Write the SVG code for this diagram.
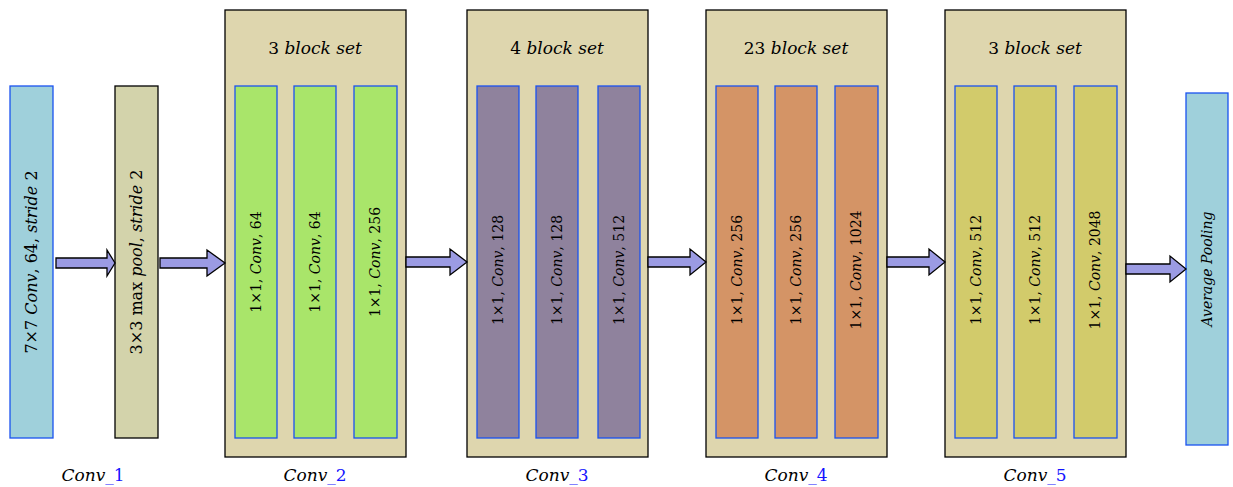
<svg xmlns="http://www.w3.org/2000/svg" width="1233" height="487" viewBox="0 0 1233 487">
<style>
text{font-family:"DejaVu Serif","Liberation Serif",serif;fill:#000}
.it{font-style:italic}
.blk{stroke:#1a52f0;stroke-width:1.3}
.cont{fill:#ded6ae;stroke:#000;stroke-width:1.3}
.arrow{fill:#9b9be3;stroke:#000;stroke-width:1.3;stroke-linejoin:miter}
.lbl{font-size:14px}
.big{font-size:16px}
.ttl{font-size:17px}
.bot{font-size:17px}
.sub{fill:#1414ff}
.g{fill:#a9e56a}.p{fill:#8f829d}.o{fill:#d49466}.y{fill:#d2cb6b}.c{fill:#9fd0db}
</style>
<rect width="1233" height="487" fill="#fff"/>
<g id="conv1">
<rect class="blk c" x="10" y="86" width="43" height="352"/>
<text class="big" transform="translate(37,262) rotate(-90)" text-anchor="middle">7×7 <tspan class="it">Conv</tspan>, 64, <tspan class="it">stride</tspan> 2</text>
<text class="bot" x="93" y="481" text-anchor="middle"><tspan class="it">Conv</tspan><tspan class="sub">_1</tspan></text>
</g>
<g id="maxpool">
<rect x="115" y="86" width="43" height="352" fill="#d3d3ab" stroke="#000" stroke-width="1.3"/>
<text class="big" transform="translate(142,262) rotate(-90)" text-anchor="middle">3×3 max <tspan class="it">pool</tspan>, <tspan class="it">stride</tspan> 2</text>
</g>
<g id="conv2">
<rect class="cont" x="225" y="10" width="181" height="447"/>
<text class="ttl" x="315" y="54" text-anchor="middle">3 <tspan class="it">block set</tspan></text>
<rect class="blk g" x="235" y="86" width="42" height="352"/>
<rect class="blk g" x="294" y="86" width="42" height="352"/>
<rect class="blk g" x="354" y="86" width="43" height="352"/>
<text class="lbl" transform="translate(261,262) rotate(-90)" text-anchor="middle">1×1, <tspan class="it">Conv</tspan>, 64</text>
<text class="lbl" transform="translate(320,262) rotate(-90)" text-anchor="middle">1×1, <tspan class="it">Conv</tspan>, 64</text>
<text class="lbl" transform="translate(380,262) rotate(-90)" text-anchor="middle">1×1, <tspan class="it">Conv</tspan>, 256</text>
<text class="bot" x="315" y="481" text-anchor="middle"><tspan class="it">Conv</tspan><tspan class="sub">_2</tspan></text>
</g>
<g id="conv3">
<rect class="cont" x="467" y="10" width="181" height="447"/>
<text class="ttl" x="557" y="54" text-anchor="middle">4 <tspan class="it">block set</tspan></text>
<rect class="blk p" x="477" y="86" width="42" height="352"/>
<rect class="blk p" x="536" y="86" width="42" height="352"/>
<rect class="blk p" x="598" y="86" width="42" height="352"/>
<text class="lbl" transform="translate(503,270) rotate(-90)" text-anchor="middle">1×1, <tspan class="it">Conv</tspan>, 128</text>
<text class="lbl" transform="translate(562,270) rotate(-90)" text-anchor="middle">1×1, <tspan class="it">Conv</tspan>, 128</text>
<text class="lbl" transform="translate(624,270) rotate(-90)" text-anchor="middle">1×1, <tspan class="it">Conv</tspan>, 512</text>
<text class="bot" x="557" y="481" text-anchor="middle"><tspan class="it">Conv</tspan><tspan class="sub">_3</tspan></text>
</g>
<g id="conv4">
<rect class="cont" x="706" y="10" width="181" height="447"/>
<text class="ttl" x="796" y="54" text-anchor="middle">23 <tspan class="it">block set</tspan></text>
<rect class="blk o" x="716" y="86" width="42" height="352"/>
<rect class="blk o" x="775" y="86" width="42" height="352"/>
<rect class="blk o" x="835" y="86" width="43" height="352"/>
<text class="lbl" transform="translate(742,270) rotate(-90)" text-anchor="middle">1×1, <tspan class="it">Conv</tspan>, 256</text>
<text class="lbl" transform="translate(801,270) rotate(-90)" text-anchor="middle">1×1, <tspan class="it">Conv</tspan>, 256</text>
<text class="lbl" transform="translate(861,270) rotate(-90)" text-anchor="middle">1×1, <tspan class="it">Conv</tspan>, 1024</text>
<text class="bot" x="796" y="481" text-anchor="middle"><tspan class="it">Conv</tspan><tspan class="sub">_4</tspan></text>
</g>
<g id="conv5">
<rect class="cont" x="945" y="10" width="181" height="447"/>
<text class="ttl" x="1035" y="54" text-anchor="middle">3 <tspan class="it">block set</tspan></text>
<rect class="blk y" x="955" y="86" width="42" height="352"/>
<rect class="blk y" x="1014" y="86" width="42" height="352"/>
<rect class="blk y" x="1074" y="86" width="43" height="352"/>
<text class="lbl" transform="translate(981,270) rotate(-90)" text-anchor="middle">1×1, <tspan class="it">Conv</tspan>, 512</text>
<text class="lbl" transform="translate(1040,270) rotate(-90)" text-anchor="middle">1×1, <tspan class="it">Conv</tspan>, 512</text>
<text class="lbl" transform="translate(1100,270) rotate(-90)" text-anchor="middle">1×1, <tspan class="it">Conv</tspan>, 2048</text>
<text class="bot" x="1035" y="481" text-anchor="middle"><tspan class="it">Conv</tspan><tspan class="sub">_5</tspan></text>
</g>
<g id="avgpool">
<rect class="blk c" x="1186" y="93" width="42" height="352"/>
<text class="it" font-size="14" transform="translate(1212,269) rotate(-90)" text-anchor="middle">Average Pooling</text>
</g>
<g id="connectors">
<path class="arrow" d="M56,258 H107 V250 L115,263 L107,276 V268 H56 Z"/>
<path class="arrow" d="M160,258 H207 V250 L225,263 L207,276 V268 H160 Z"/>
<path class="arrow" d="M406,257 H450 V249 L467,262 L450,275 V267 H406 Z"/>
<path class="arrow" d="M648,257 H690 V249 L706,262 L690,275 V267 H648 Z"/>
<path class="arrow" d="M887,257 H929 V249 L945,262 L929,275 V267 H887 Z"/>
<path class="arrow" d="M1126,264 H1170 V256 L1186,269 L1170,282 V274 H1126 Z"/>
</g>
</svg>
